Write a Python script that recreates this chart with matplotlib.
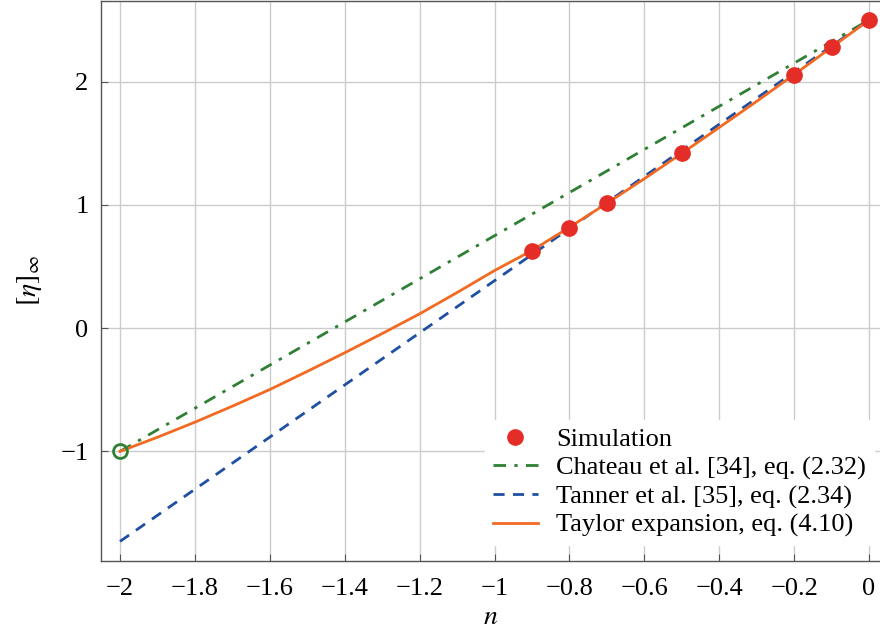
import matplotlib
matplotlib.use("Agg")
import matplotlib.pyplot as plt
import numpy as np

plt.rcParams['font.family'] = ['Liberation Serif', 'DejaVu Serif']
plt.rcParams['mathtext.fontset'] = 'stix'
plt.rcParams['font.size'] = 19

# simulation results
sim_n = [-0.9, -0.8, -0.7, -0.5, -0.2, -0.1, 0.0]
sim_eta = [0.624, 0.816, 1.013, 1.418, 2.057, 2.278, 2.503]

# Chateau et al. (straight line)
chateau_n = [-2.0, 0.0]
chateau_eta = [-1.0, 2.5]

# Tanner et al. (straight line)
tanner_n = [-2.0, 0.0]
tanner_eta = [-1.73, 2.5]

# Taylor expansion curve
taylor_n = [-2.0, -1.9, -1.8, -1.7, -1.6, -1.5, -1.4, -1.3, -1.2, -1.1, -1.0,
            -0.9, -0.8, -0.7, -0.6, -0.5, -0.4, -0.3, -0.2, -0.1, 0.0]
taylor_eta = [-1.0, -0.885, -0.763, -0.633, -0.498, -0.351, -0.200, -0.044, 0.116, 0.289, 0.467,
              0.630, 0.818, 1.013, 1.212, 1.418, 1.628, 1.840, 2.057, 2.278, 2.5]

C_RED = '#e52d27'
C_GREEN = '#2f7f34'
C_BLUE = '#1f4fa3'
C_ORANGE = '#f26a22'

W, H = 880, 634
fig = plt.figure(figsize=(W / 100, H / 100), dpi=100)
ax = fig.add_axes([101 / W, 1 - 561 / H, 1 - 101 / W, 561 / H - 0.001])

ax.plot(chateau_n, chateau_eta, color=C_GREEN, lw=2.0, dashes=(4.5, 3.0, 1.2, 3.0),
        label='Chateau et al. [34], eq. (2.32)', zorder=3)
ax.plot(tanner_n, tanner_eta, color=C_BLUE, lw=2.0, dashes=(4.0, 3.0),
        label='Tanner et al. [35], eq. (2.34)', zorder=3)
ax.plot(taylor_n, taylor_eta, color=C_ORANGE, lw=2.0, solid_joinstyle='round',
        label='Taylor expansion, eq. (4.10)', zorder=4)
ax.plot(sim_n, sim_eta, 'o', color=C_RED, ms=11, mec=C_RED,
        label='Simulation', zorder=5)
ax.plot([chateau_n[0]], [chateau_eta[0]], 'o', ms=10, mfc='none', mec=C_GREEN, mew=2.0, zorder=6)

ax.set_xlim(-2.0507, 0.0293)
ax.set_ylim(-1.889, 2.657)
ax.set_xticks(np.arange(-2.0, 0.01, 0.2))
ax.set_xticklabels(['\u22122', '\u22121.8', '\u22121.6', '\u22121.4', '\u22121.2', '\u22121',
                    '\u22120.8', '\u22120.6', '\u22120.4', '\u22120.2', '0'])
ax.set_yticks([-1, 0, 1, 2])
ax.set_yticklabels(['\u22121', '0', '1', '2'])

ax.grid(True, color='#cccccc', lw=1.0)
ax.set_axisbelow(True)
ax.tick_params(direction='in', length=5, color='#555555', labelsize=19)
ax.tick_params(axis='x', pad=12)
ax.tick_params(axis='y', pad=9)
for s in ['left', 'bottom', 'top']:
    ax.spines[s].set_color('#555555')
    ax.spines[s].set_linewidth(1.0)
ax.spines['right'].set_visible(False)

ax.set_xlabel('$n$', fontsize=20, labelpad=4)
ax.set_ylabel(r'$[\eta]_\infty$', fontsize=20, labelpad=12)

handles, labels = ax.get_legend_handles_labels()
order = [3, 0, 1, 2]
leg = ax.legend([handles[i] for i in order], [labels[i] for i in order],
                loc='upper left', bbox_to_anchor=(485 / W, 1 - 420 / H),
                bbox_transform=fig.transFigure, frameon=True,
                fancybox=False, edgecolor='white', framealpha=1.0,
                handlelength=1.7, handletextpad=0.7, labelspacing=0.18,
                borderpad=0.3, borderaxespad=0.0, fontsize=19)

fig.savefig('out.png', dpi=100)
